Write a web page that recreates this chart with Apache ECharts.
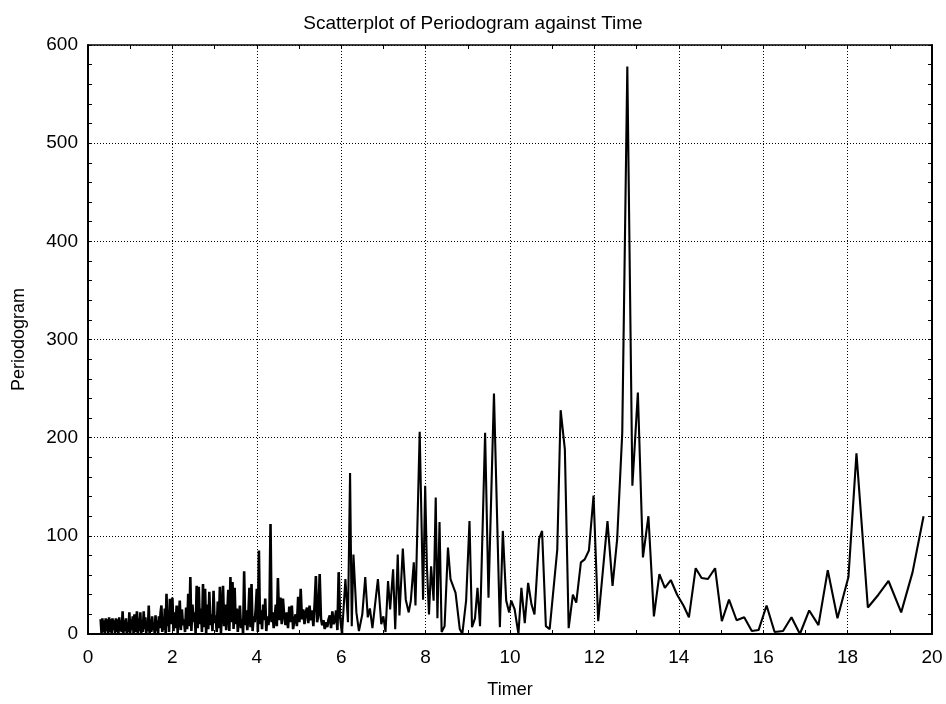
<!DOCTYPE html>
<html>
<head>
<meta charset="utf-8">
<title>Scatterplot of Periodogram against Time</title>
<script src="https://cdn.jsdelivr.net/npm/echarts@6/dist/echarts.min.js"></script>
<style>
  html, body { margin: 0; padding: 0; background: #fff; }
  #chart { width: 946px; height: 704px; }
</style>
</head>
<body>
<div id="chart"></div>
<script>
// dense low-period part (0.3 - 2.0)
const denseTimer = [
  0.30, 0.32, 0.34, 0.36, 0.38, 0.40, 0.42, 0.44, 0.46, 0.48,
  0.50, 0.52, 0.54, 0.56, 0.58, 0.60, 0.62, 0.64, 0.66, 0.68,
  0.70, 0.72, 0.74, 0.76, 0.78, 0.80, 0.82, 0.84, 0.86, 0.88,
  0.90, 0.92, 0.94, 0.96, 0.98, 1.00, 1.02, 1.04, 1.06, 1.08,
  1.10, 1.12, 1.14, 1.16, 1.18, 1.20, 1.22, 1.24, 1.26, 1.28,
  1.30, 1.32, 1.34, 1.36, 1.38, 1.40, 1.42, 1.44, 1.46, 1.48,
  1.50, 1.52, 1.54, 1.56, 1.58, 1.60, 1.62, 1.64, 1.66, 1.68,
  1.70, 1.72, 1.74, 1.76, 1.78, 1.80, 1.82, 1.84, 1.86, 1.88,
  1.90, 1.92, 1.94, 1.96, 1.98
];
const densePeriodogram = [
  15, 1, 16, 2, 14, 0, 16, 3, 15, 1,
  17, 2, 15, 0, 16, 4, 14, 1, 16, 2,
  15, 0, 17, 3, 14, 2, 23, 1, 14, 3,
  16, 0, 12, 2, 22, 1, 15, 4, 18, 0,
  20, 2, 13, 23, 1, 16, 3, 22, 0, 14,
  2, 23, 5, 17, 1, 12, 3, 29, 0, 15,
  2, 18, 4, 11, 1, 19, 3, 14, 0, 18,
  6, 22, 29, 2, 17, 4, 26, 1, 41, 8,
  24, 2, 36, 10, 20
];

// middle part (2.0 - 4.5)
const midTimer = [
  2.000, 2.025, 2.050, 2.075, 2.100, 2.125, 2.150, 2.175,
  2.200, 2.225, 2.250, 2.275, 2.300, 2.325, 2.350, 2.375,
  2.400, 2.425, 2.450, 2.475, 2.500, 2.525, 2.550, 2.575,
  2.600, 2.625, 2.650, 2.675, 2.700, 2.725, 2.750, 2.775,
  2.800, 2.825, 2.850, 2.875, 2.900, 2.925, 2.950, 2.975,
  3.000, 3.025, 3.050, 3.075, 3.100, 3.125, 3.150, 3.175,
  3.200, 3.225, 3.250, 3.275, 3.300, 3.325, 3.350, 3.375,
  3.400, 3.425, 3.450, 3.475, 3.500, 3.525, 3.550, 3.575,
  3.600, 3.625, 3.650, 3.675, 3.700, 3.725, 3.750, 3.775,
  3.800, 3.825, 3.850, 3.875, 3.900, 3.925, 3.950, 3.975,
  4.000, 4.025, 4.050, 4.075, 4.100, 4.125, 4.150, 4.175,
  4.200, 4.225, 4.250, 4.275, 4.300, 4.325, 4.350, 4.375,
  4.400, 4.425, 4.450, 4.475
];
const midPeriodogram = [
  37, 3, 22, 6, 29, 1, 18, 34,
  4, 25, 9, 15, 2, 27, 5, 41,
  8, 58, 3, 30, 12, 22, 1, 49,
  6, 48, 10, 26, 2, 51, 7, 46,
  0, 30, 5, 43, 9, 20, 3, 44,
  11, 19, 2, 33, 6, 48, 1, 25,
  49, 8, 30, 4, 21, 45, 3, 58,
  12, 53, 5, 47, 10, 26, 2, 18,
  29, 6, 15, 0, 64, 9, 24, 4,
  20, 47, 7, 51, 3, 18, 12, 26,
  46, 2, 85, 10, 24, 5, 30, 14,
  36, 3, 18, 9, 20, 112, 12, 22,
  6, 16, 30, 8
];

// 4.5 - 6.0
const lateTimer = [
  4.50, 4.53, 4.56, 4.59, 4.62, 4.65, 4.68, 4.71, 4.74, 4.77,
  4.80, 4.83, 4.86, 4.89, 4.92, 4.95, 4.98, 5.01, 5.04, 5.07,
  5.10, 5.13, 5.16, 5.19, 5.22, 5.25, 5.28, 5.31, 5.34, 5.37,
  5.40, 5.43, 5.46, 5.49, 5.52, 5.55, 5.58, 5.61, 5.64, 5.67,
  5.70, 5.73, 5.76, 5.79, 5.82, 5.85, 5.88, 5.91, 5.94, 5.97
];
const latePeriodogram = [
  57, 14, 37, 10, 36, 18, 9, 22, 6, 28,
  12, 29, 5, 14, 20, 8, 38, 12, 46, 15,
  25, 10, 22, 27, 11, 29, 14, 24, 8, 30,
  59, 12, 20, 61, 16, 9, 14, 5, 12, 7,
  15, 19, 6, 23, 10, 14, 24, 4, 63, 20
];

// sparse high-period part (6.0 - 20)
const sparseTimer = [
  6.02, 6.10, 6.16, 6.21, 6.25, 6.29, 6.36, 6.42, 6.50, 6.57,
  6.63, 6.68, 6.74, 6.87, 6.95, 7.00, 7.05, 7.11, 7.16, 7.23,
  7.28, 7.34, 7.38, 7.46, 7.53, 7.60, 7.65, 7.69, 7.72, 7.76,
  7.86, 7.94, 7.99, 8.03, 8.08, 8.13, 8.19, 8.24, 8.28, 8.33,
  8.38, 8.45, 8.53, 8.59, 8.71, 8.81, 8.87, 8.96, 9.04, 9.10,
  9.17, 9.23, 9.29, 9.41, 9.49, 9.62, 9.76, 9.83, 9.91, 9.98,
  10.03, 10.11, 10.20, 10.27, 10.35, 10.43, 10.51, 10.58, 10.69, 10.76,
  10.85, 10.94, 11.12, 11.20, 11.30, 11.39, 11.49, 11.57, 11.68, 11.77,
  11.87, 11.98, 12.09, 12.31, 12.43, 12.54, 12.66, 12.78, 12.90, 13.03,
  13.15, 13.28, 13.41, 13.54, 13.67, 13.81, 13.96, 14.11, 14.24, 14.40,
  14.54, 14.69, 14.86, 15.02, 15.19, 15.37, 15.55, 15.73, 15.89, 16.08,
  16.27, 16.47, 16.67, 16.87, 17.09, 17.31, 17.53, 17.76, 18.02, 18.21,
  18.48, 18.73, 18.97, 19.27, 19.54, 19.80
];
const sparsePeriodogram = [
  1, 56, 12, 164, 8, 81, 22, 3, 20, 58,
  17, 26, 6, 56, 10, 18, 2, 54, 25, 66,
  5, 81, 19, 87, 35, 22, 34, 33, 73, 29,
  206, 35, 151, 70, 20, 69, 34, 139, 16, 114,
  2, 8, 88, 56, 42, 5, 0, 34, 115, 7,
  16, 47, 8, 205, 37, 245, 7, 105, 34, 22,
  34, 25, 0, 47, 11, 52, 30, 20, 97, 105,
  8, 5, 86, 228, 188, 6, 40, 32, 73, 76,
  85, 141, 13, 115, 49, 97, 205, 578, 151, 246,
  78, 120, 18, 61, 47, 55, 40, 29, 17, 67,
  57, 56, 67, 13, 35, 14, 17, 3, 4, 29,
  2, 3, 17, 0, 24, 9, 65, 16, 58, 184,
  27, 40, 54, 22, 63, 120
];

const xTicks = [0, 2, 4, 6, 8, 10, 12, 14, 16, 18, 20];
const yTicks = [0, 100, 200, 300, 400, 500, 600];

const lowTimer = denseTimer.concat(midTimer, lateTimer, sparseTimer.slice(0, 1));
const lowValues = densePeriodogram.concat(midPeriodogram, latePeriodogram, sparsePeriodogram.slice(0, 1));
const lowPoints = lowTimer.map((t, i) => [t, lowValues[i]]);
const highPoints = sparseTimer.map((t, i) => [t, sparsePeriodogram[i]]);

const font = 'Liberation Sans, Arial, sans-serif';
const frame = { show: true, onZero: false, lineStyle: { color: '#000', width: 2 } };
const tick = { show: true, inside: true, length: 4, lineStyle: { color: '#000', width: 1 } };
const minor = (n) => ({ show: true, splitNumber: n, length: 4, lineStyle: { color: '#000', width: 1 } });
const dots = { show: true, lineStyle: { color: '#000', width: 1, type: [1, 2] } };

const chart = echarts.init(document.getElementById('chart'));
chart.setOption({
  animation: false,
  backgroundColor: '#fff',
  title: {
    text: 'Scatterplot of Periodogram against Time',
    left: 'center',
    top: 9,
    textStyle: { fontFamily: font, fontSize: 19, fontWeight: 'normal', color: '#000' }
  },
  grid: { left: 88, right: 14, top: 45, bottom: 69 },
  xAxis: [
    {
      type: 'value',
      min: xTicks[0],
      max: xTicks[xTicks.length - 1],
      interval: 2,
      name: 'Timer',
      nameLocation: 'middle',
      nameGap: 47,
      nameTextStyle: { fontFamily: font, fontSize: 18, color: '#000' },
      axisLine: frame,
      axisTick: tick,
      minorTick: minor(2),
      splitLine: dots,
      axisLabel: { fontFamily: font, fontSize: 19, color: '#000', margin: 14 }
    },
    {
      type: 'value',
      position: 'top',
      min: xTicks[0],
      max: xTicks[xTicks.length - 1],
      interval: 2,
      axisLine: { show: true, onZero: false, lineStyle: { color: '#000', width: 1.5 } },
      axisTick: tick,
      minorTick: minor(2),
      splitLine: { show: false },
      axisLabel: { show: false }
    }
  ],
  yAxis: [
    {
      type: 'value',
      min: yTicks[0],
      max: yTicks[yTicks.length - 1],
      interval: 100,
      name: 'Periodogram',
      nameLocation: 'middle',
      nameGap: 60,
      nameTextStyle: { fontFamily: font, fontSize: 18, color: '#000' },
      axisLine: frame,
      axisTick: tick,
      minorTick: minor(5),
      splitLine: dots,
      axisLabel: { fontFamily: font, fontSize: 19, color: '#000', margin: 10 }
    },
    {
      type: 'value',
      position: 'right',
      min: yTicks[0],
      max: yTicks[yTicks.length - 1],
      interval: 100,
      axisLine: frame,
      axisTick: tick,
      minorTick: minor(5),
      splitLine: { show: false },
      axisLabel: { show: false }
    }
  ],
  series: [
    {
      name: 'Periodogram (dense)',
      type: 'line',
      data: lowPoints,
      showSymbol: false,
      symbol: 'none',
      sampling: false,
      lineStyle: { color: '#000', width: 2.6 }
    },
    {
      name: 'Periodogram',
      type: 'line',
      data: highPoints,
      showSymbol: false,
      symbol: 'none',
      sampling: false,
      lineStyle: { color: '#000', width: 2.1 }
    }
  ]
});

window.addEventListener('resize', () => chart.resize());
</script>
</body>
</html>
